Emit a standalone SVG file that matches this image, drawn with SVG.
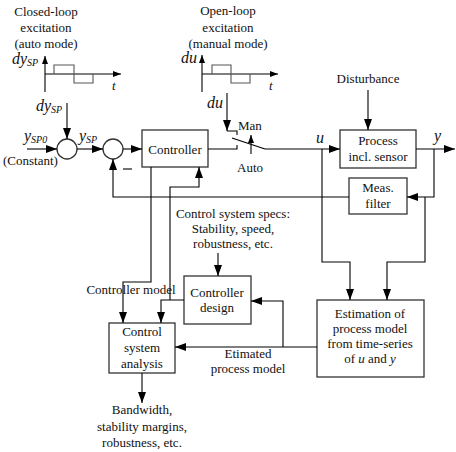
<svg xmlns="http://www.w3.org/2000/svg" width="456" height="452" viewBox="0 0 456 452">
<defs>
<marker id="arr" viewBox="0 0 11 8" refX="11" refY="4" markerWidth="11" markerHeight="8" markerUnits="userSpaceOnUse" orient="auto"><path d="M0,0 L11,4 L0,8 z" fill="#000"/></marker>
<marker id="arrS" viewBox="0 0 8 6" refX="8" refY="3" markerWidth="8" markerHeight="6" markerUnits="userSpaceOnUse" orient="auto"><path d="M0,0 L8,3 L0,6 z" fill="#000"/></marker>
<style>
text{font-family:"Liberation Serif","Times New Roman",serif;font-size:13px;fill:#111}
.c{text-anchor:middle}
.i{font-style:italic}
.big{font-size:16px}
.sub{font-size:10px}
.box{fill:#fff;stroke:#333;stroke-width:1.3}
.ln{fill:none;stroke:#000;stroke-width:1.1}
.sig{fill:none;stroke:#555;stroke-width:1.1}
.a{marker-end:url(#arr)}
.as{marker-end:url(#arrS)}
</style>
</defs>
<rect width="456" height="452" fill="#fff"/>

<g id="closed-loop-excitation">
<text class="c" x="46" y="16">Closed-loop</text>
<text class="c" x="46" y="32">excitation</text>
<text class="c" x="46" y="48">(auto mode)</text>
<text class="i" x="12" y="64"><tspan class="big">dy</tspan><tspan class="sub" dy="2">SP</tspan></text>
<path class="ln as" d="M45,92 V56"/>
<path class="ln as" d="M45,74 H121"/>
<path class="sig" d="M54,74 V65 H74 V83 H93 V74"/>
<text class="i" x="112" y="90">t</text>
</g>

<g id="open-loop-excitation">
<text class="c" x="228" y="15">Open-loop</text>
<text class="c" x="228" y="32">excitation</text>
<text class="c" x="228" y="48">(manual mode)</text>
<text class="i big" x="181" y="63">du</text>
<path class="ln as" d="M202,92 V55"/>
<path class="ln as" d="M202,74 H278"/>
<path class="sig" d="M212,74 V65 H231 V83 H250 V74"/>
<text class="i" x="269" y="90">t</text>
</g>

<g id="sum1">
<circle class="box" cx="67" cy="149" r="10"/>
</g>
<g id="sum2">
<circle class="box" cx="113" cy="149" r="10"/>
</g>

<g id="controller">
<rect class="box" x="142" y="130" width="66" height="37"/>
<text class="c" x="175" y="154">Controller</text>
</g>

<g id="switch">
<text x="238" y="130">Man</text>
<text x="237" y="172">Auto</text>
<path class="ln" d="M227,131 H237 V135"/>
<path class="ln" d="M208,149 H237 V145"/>
<path class="ln" d="M232,138 L265,149"/>
<path class="ln as" d="M251,154 V135"/>
</g>

<g id="process">
<rect class="box" x="340" y="130" width="76" height="38"/>
<text class="c" x="378" y="145">Process</text>
<text class="c" x="378" y="161">incl. sensor</text>
</g>

<g id="meas-filter">
<rect class="box" x="349" y="178" width="58" height="36"/>
<text class="c" x="378" y="192">Meas.</text>
<text class="c" x="378" y="208">filter</text>
</g>

<g id="estimation">
<rect class="box" x="317" y="300" width="107" height="77"/>
<text class="c" x="370" y="318">Estimation of</text>
<text class="c" x="370" y="333">process model</text>
<text class="c" x="370" y="348">from time-series</text>
<text class="c" x="370" y="363">of <tspan class="i">u</tspan> and <tspan class="i">y</tspan></text>
</g>

<g id="controller-design">
<rect class="box" x="184" y="276" width="67" height="48"/>
<text class="c" x="217" y="297">Controller</text>
<text class="c" x="217" y="312">design</text>
</g>

<g id="analysis">
<rect class="box" x="109" y="323" width="66" height="50"/>
<text class="c" x="142" y="336">Control</text>
<text class="c" x="142" y="352">system</text>
<text class="c" x="142" y="368">analysis</text>
</g>

<g id="labels">
<text class="i" x="36" y="111"><tspan class="big">dy</tspan><tspan class="sub" dy="2">SP</tspan></text>
<text class="i big" x="207" y="108">du</text>
<text class="i" x="24" y="141"><tspan class="big">y</tspan><tspan class="sub" dy="2">SP0</tspan></text>
<text x="3" y="165">(Constant)</text>
<text class="i" x="79" y="141"><tspan class="big">y</tspan><tspan class="sub" dy="2">SP</tspan></text>
<text class="i big" x="316" y="143">u</text>
<text class="i big" x="434" y="141">y</text>
<text class="c" x="368" y="83">Disturbance</text>
<text class="c" x="233" y="218">Control system specs:</text>
<text class="c" x="233" y="233">Stability, speed,</text>
<text class="c" x="233" y="248">robustness, etc.</text>
<text class="c" x="131" y="294">Controller model</text>
<text class="c" x="248" y="358">Etimated</text>
<text class="c" x="248" y="373">process model</text>
<text class="c" x="142" y="414">Bandwidth,</text>
<text class="c" x="142" y="431">stability margins,</text>
<text class="c" x="142" y="447">robustness, etc.</text>
</g>

<g id="connectors">
<path class="ln a" d="M67,103 V139"/>
<path class="ln a" d="M227,93 V131"/>
<path class="ln a" d="M27,149 H57"/>
<path class="ln a" d="M77,149 H103"/>
<path class="ln a" d="M123,149 H142"/>
<path class="ln a" d="M265,149 H340"/>
<path class="ln a" d="M368,90 V130"/>
<path class="ln a" d="M416,149 H455"/>
<path class="ln a" d="M434,149 V197 H407"/>
<path class="ln a" d="M349,197 H113 V159"/>
<path class="ln" d="M123,169 H132" stroke-width="1.3"/>
<path class="ln a" d="M322,149 V262 H350 V300"/>
<path class="ln a" d="M425,197 V262 H387 V300"/>
<path class="ln a" d="M317,347 H175"/>
<path class="ln a" d="M283,347 V301 H251"/>
<path class="ln a" d="M218,253 V276"/>
<path class="ln a" d="M151,167 V282 H123 V323"/>
<path class="ln a" d="M184,300 H161 V323"/>
<path class="ln a" d="M170,300 V187 H199 V167"/>
<path class="ln a" d="M142,373 V403"/>
</g>
</svg>
